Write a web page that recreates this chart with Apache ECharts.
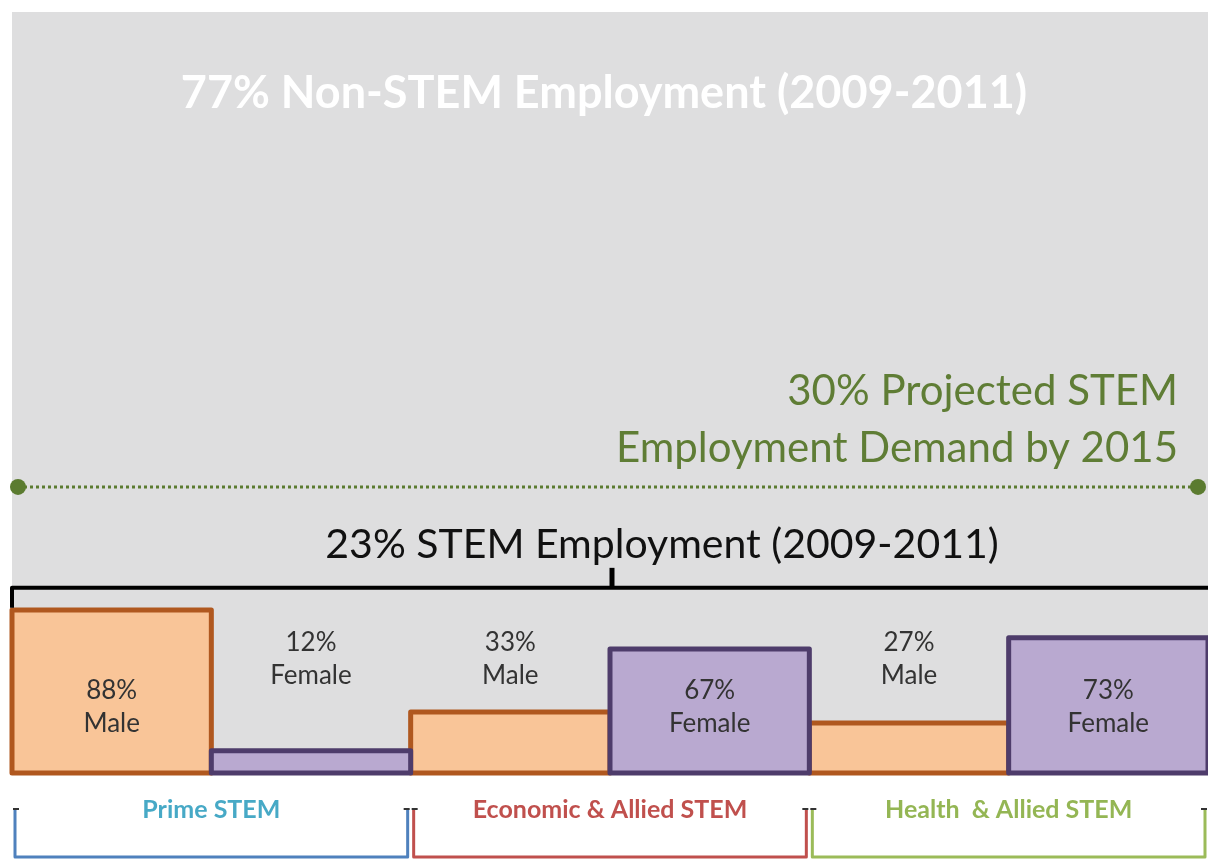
<!DOCTYPE html>
<html><head><meta charset="utf-8">
<script src="https://cdn.jsdelivr.net/npm/echarts@6/dist/echarts.min.js"></script>
<style>html,body{margin:0;padding:0;background:#fff}#c{width:1208px;height:863px}</style>
</head><body><div id="c"></div>
<script>
// ---- data ----
const groups = ['Prime STEM', 'Economic & Allied STEM', 'Health  & Allied STEM'];
const maleShare = [88, 33, 27];
const femaleShare = [12, 67, 73];
const sexNames = ['Male', 'Female'];
const nonStemTitle = '77% Non-STEM Employment (2009-2011)';
const stemTitle = '23% STEM Employment (2009-2011)';
const projectedLines = ['30% Projected STEM', 'Employment Demand by 2015'];

// ---- styles / layout constants ----
const FONT = 'Lato, "Open Sans", sans-serif';
const groupLabelColors = ['#47a9c6', '#c0504d', '#94b654'];
const groupBracketColors = ['#4f81bd', '#c0504d', '#9bbb59'];
const sexFill = ['#f9c598', '#b9a9d0'];
const sexStroke = ['#b0581f', '#4e3c6b'];
const Y_MAX = 411;
const LABEL_LEVEL = 61.5;
const INSIDE_LEVEL = 35.5;
const STEM_TOTAL = 100;
const PROJECTED_LEVEL = 154.5;

const chart = echarts.init(document.getElementById('c'), null, {renderer: 'canvas'});

const labelData = [];
groups.forEach((g, i) => {
  labelData.push([i, 0, maleShare[i]]);
  labelData.push([i, 1, femaleShare[i]]);
});

const rich = {};
groupLabelColors.forEach((c, i) => {
  rich['g' + i] = {color: c, fontSize: 25, fontWeight: 'bold', fontFamily: FONT};
});

function barSeries(sexIdx, values) {
  return {
    name: sexNames[sexIdx], type: 'custom',
    data: values.map((v, i) => [i, v]), encode: {x: 0, y: 1},
    renderItem: function (params, api) {
      const i = api.value(0), v = api.value(1);
      const band = api.size([1, 0])[0];
      const top = api.coord([i, v]);
      const base = api.coord([i, 0]);
      const x = top[0] - band / 2 + sexIdx * band / 2;
      return {type: 'rect',
        shape: {x: x, y: top[1], width: band / 2, height: base[1] - top[1]},
        style: {fill: sexFill[sexIdx], stroke: sexStroke[sexIdx], lineWidth: 5, lineJoin: 'round'}};
    }
  };
}

chart.setOption({
  animation: false,
  backgroundColor: '#ffffff',
  title: {
    text: nonStemTitle, left: 'center', top: 66,
    textStyle: {color: '#ffffff', fontSize: 45, fontWeight: 'bold', fontFamily: FONT}
  },
  grid: {left: 12, right: 0, top: 12, bottom: 90, show: true, backgroundColor: '#dededf', borderWidth: 0},
  xAxis: {
    type: 'category', data: groups,
    axisLine: {show: false}, axisTick: {show: false},
    axisLabel: {margin: 24, formatter: (v, i) => '{g' + i + '|' + v + '}', rich: rich}
  },
  yAxis: {type: 'value', min: 0, max: Y_MAX, show: false},
  series: [
    barSeries(0, maleShare),
    barSeries(1, femaleShare),
    {type: 'custom', data: labelData, encode: {x: 0, y: 2}, z: 10,
     renderItem: function (params, api) {
       const gi = api.value(0), s = api.value(1), v = api.value(2);
       const band = api.size([1, 0])[0];
       const level = v >= 50 ? INSIDE_LEVEL : LABEL_LEVEL;
       const pt = api.coord([gi, level]);
       const x = pt[0] + (s === 0 ? -band / 4 : band / 4);
       return {type: 'text', style: {
         text: v + '%\n' + sexNames[s], x: x, y: pt[1],
         align: 'center', verticalAlign: 'middle',
         fill: '#333333', fontSize: 26, fontFamily: FONT, lineHeight: 33
       }};
     }}
  ]
});

// ---- annotations positioned through the axes ----
const c0 = chart.convertToPixel({xAxisIndex: 0}, 0);
const c1 = chart.convertToPixel({xAxisIndex: 0}, 1);
const band = c1 - c0;
const L = c0 - band / 2;
const R = c0 + band * (groups.length - 0.5);
const mid = (L + R) / 2;
const yTot = chart.convertToPixel({yAxisIndex: 0}, STEM_TOTAL);
const yProj = chart.convertToPixel({yAxisIndex: 0}, PROJECTED_LEVEL);
const yBase = chart.convertToPixel({yAxisIndex: 0}, 0);

const g = [];
// STEM bracket
g.push({type: 'polyline', shape: {points: [[L, yTot + 20], [L, yTot], [R, yTot]]},
  style: {stroke: '#000', lineWidth: 4, fill: null, lineJoin: 'round'}, z: 20});
g.push({type: 'line', shape: {x1: mid + 2, y1: yTot, x2: mid + 2, y2: yTot - 20},
  style: {stroke: '#000', lineWidth: 5}, z: 20});
g.push({type: 'text', style: {text: stemTitle, x: mid + 52, y: yTot - 43, align: 'center', verticalAlign: 'middle',
  fill: '#111', fontSize: 41, fontFamily: FONT}, z: 20});
// projected demand line
g.push({type: 'line', shape: {x1: L + 6, y1: yProj, x2: R - 10, y2: yProj},
  style: {stroke: '#5b7b30', lineWidth: 3, lineDash: [3, 3]}, z: 20});
g.push({type: 'circle', shape: {cx: L + 6, cy: yProj, r: 8}, style: {fill: '#5b7b30'}, z: 21});
g.push({type: 'circle', shape: {cx: R - 10, cy: yProj, r: 8}, style: {fill: '#5b7b30'}, z: 21});
g.push({type: 'text', style: {text: projectedLines.join('\n'), x: R - 30, y: yProj - 67, align: 'right', verticalAlign: 'middle',
  fill: '#5f7d35', fontSize: 42, fontFamily: FONT, lineHeight: 57}, z: 20});
// group brackets
groups.forEach((name, i) => {
  const ci = chart.convertToPixel({xAxisIndex: 0}, i);
  const x0 = ci - band / 2 + 3, x1 = ci + band / 2 - 3;
  g.push({type: 'polyline', shape: {points: [[x0, yBase + 36], [x0, yBase + 84], [x1, yBase + 84], [x1, yBase + 36]]},
    style: {stroke: groupBracketColors[i], lineWidth: 3, fill: null, lineJoin: 'round'}, z: 20});
  g.push({type: 'line', shape: {x1: x0 - 2, y1: yBase + 36, x2: x0 + 4, y2: yBase + 36}, style: {stroke: '#333', lineWidth: 2}, z: 21});
  g.push({type: 'line', shape: {x1: x1 - 4, y1: yBase + 36, x2: x1 + 2, y2: yBase + 36}, style: {stroke: '#333', lineWidth: 2}, z: 21});
});
chart.setOption({graphic: g});
</script>
</body></html>
